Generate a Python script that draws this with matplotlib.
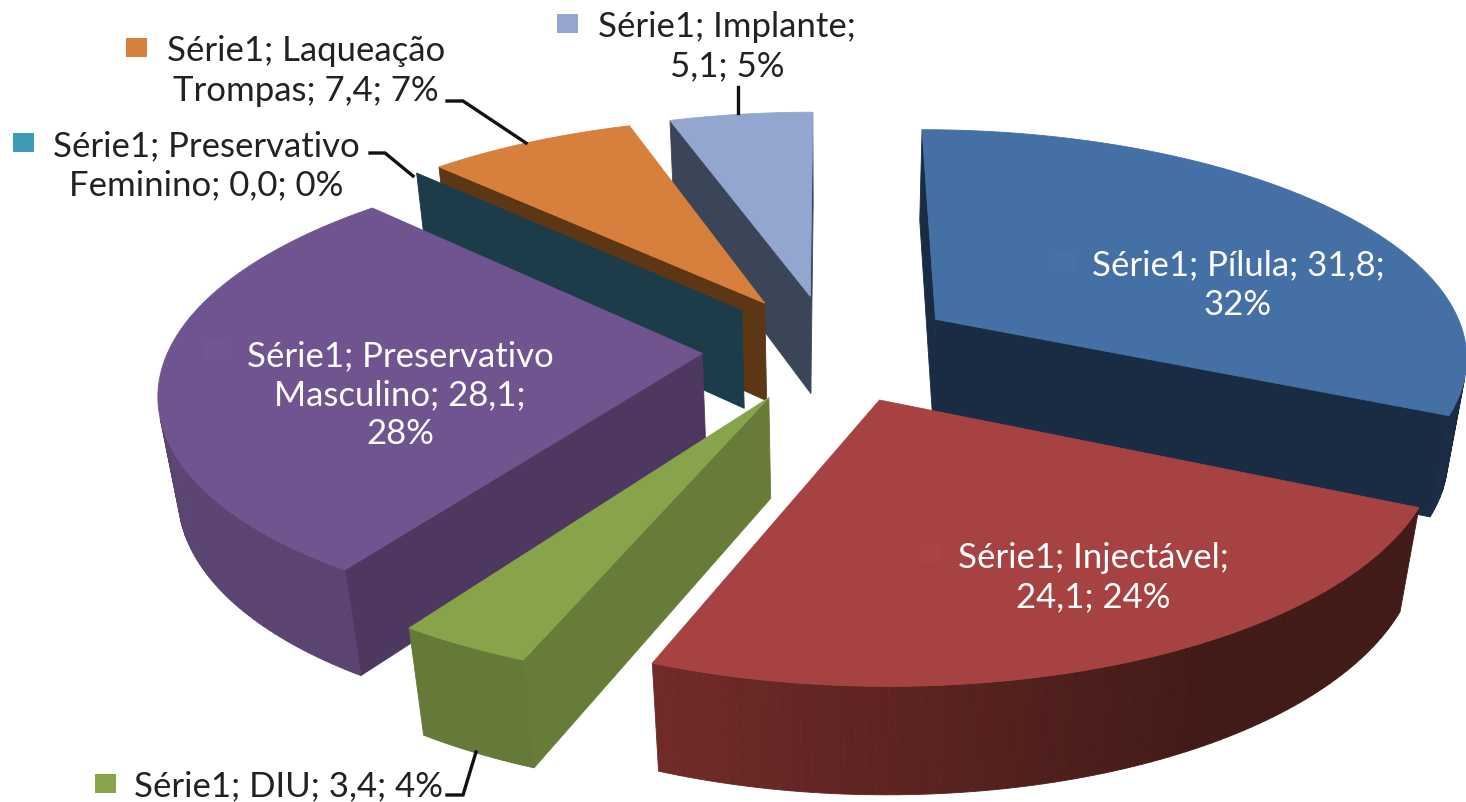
#!/usr/bin/python3

import numpy as np
import matplotlib
matplotlib.use("Agg")
import matplotlib.pyplot as plt
from matplotlib.colors import to_rgb
from matplotlib.patches import Polygon, Rectangle

categories = ["Pílula", "Injectável", "DIU", "Preservativo Masculino",
              "Preservativo Feminino", "Laqueação Trompas", "Implante"]
values = [31.8, 24.1, 3.4, 28.1, 0.0, 7.4, 5.1]
labels = [
    "Série1; Pílula; 31,8;\n32%",
    "Série1; Injectável;\n24,1; 24%",
    "Série1; DIU; 3,4; 4%",
    "Série1; Preservativo\nMasculino; 28,1;\n28%",
    "Série1; Preservativo\nFeminino; 0,0; 0%",
    "Série1; Laqueação\nTrompas; 7,4; 7%",
    "Série1; Implante;\n5,1; 5%",
]

top_colors = ["#4470A6", "#A64342", "#87A44B", "#705490", "#1B3C48", "#D77F3C", "#92A6CF"]
wall_colors = ["#1A2C44", "#421A17", "#687C3A", "#4E3860", "#1B3C48", "#5C3615", "#3B4558"]
outer_colors = ["#1A2C44", "#702B29", "#657A38", "#5B4472", "#1B3C48", "#5C3615", "#3B4558"]
key_colors = ["#4672A8", "#A94544", "#87A44B", "#725692", "#3F9BB3", "#D77F3C", "#92A6CF"]
text_colors = ["white", "white", "#222222", "white", "#222222", "#222222", "#222222"]

# pie geometry in pixels, the image is the data space
cx, cy = 830, 348
rx, ry = 533, 226
depth = 102
explode = 0.24
persp = 0.15
persp_z = 0.03

# text centre and key box (left, top) per slice
label_pos = [(1238, 285), (1093, 578), (288, 786), (400, 395), (206, 166), (306, 71), (727, 47)]
key_pos = [(1055, 253), (919, 543), (95, 774), (205, 341), (13, 133), (126, 38), (557, 14)]
leaders = {
    2: ([447, 463, 476], [795, 795, 752]),
    4: ([370, 385, 413], [153, 153, 176]),
    5: ([447, 463, 526], [101, 101, 143]),
    6: ([738, 738], [87, 113]),
}


def project(X, Y, z=0.0):
    s = 1 / (1 + persp * Y + persp_z * z)
    return cx + rx * X * s, cy + (depth * z - ry * Y) * s


def area(pts):
    x, y = np.array(pts).T
    return 0.5 * np.sum(x * np.roll(y, -1) - np.roll(x, -1) * y)


def face(ax, pts, color, sign):
    # only faces turned to the viewer
    if area(pts) * sign > 0:
        ax.add_patch(Polygon(pts, closed=True, facecolor=color, edgecolor=color, lw=0.6))


def draw_slice(ax, i, a0, a1):
    mid = (a0 + a1) / 2
    ox, oy = explode * np.sin(mid), explode * np.cos(mid)
    t = np.linspace(a0, a1, max(2, int((a1 - a0) * 60)))
    X, Y = ox + np.sin(t), oy + np.cos(t)

    apex_t, apex_b = project(ox, oy), project(ox, oy, 1)
    start = [apex_t, project(X[0], Y[0]), project(X[0], Y[0], 1), apex_b]
    end = [apex_t, project(X[-1], Y[-1]), project(X[-1], Y[-1], 1), apex_b]
    face(ax, start, wall_colors[i], -1)
    face(ax, end, wall_colors[i], 1)

    # outer wall as thin strips, darker towards the right
    dark, light = np.array(to_rgb(wall_colors[i])), np.array(to_rgb(outer_colors[i]))
    for j in range(len(t) - 1):
        quad = [project(X[j], Y[j]), project(X[j + 1], Y[j + 1]),
                project(X[j + 1], Y[j + 1], 1), project(X[j], Y[j], 1)]
        deg = np.degrees((t[j] + t[j + 1]) / 2)
        f = np.clip((deg - 150) / 51, 0, 1)
        if i != 1:
            f = 1
        face(ax, quad, tuple(dark + (light - dark) * f), -1)

    if a1 > a0:
        top = [apex_t] + [project(a, b) for a, b in zip(X, Y)]
        ax.add_patch(Polygon(top, closed=True, facecolor=top_colors[i],
                             edgecolor=top_colors[i], lw=0.6))


def pie_chart():
    fig = plt.figure(figsize=(14.66, 8.02), dpi=100)
    ax = fig.add_axes([0, 0, 1, 1])
    ax.set_xlim(0, 1466)
    ax.set_ylim(802, 0)
    ax.axis("off")

    v = np.array(values)
    edges = np.concatenate([[0], np.cumsum(v)]) / v.sum() * 2 * np.pi
    for i in [6, 5, 4, 0, 3, 2, 1]:
        draw_slice(ax, i, edges[i], edges[i + 1])

    for xs, ys in leaders.values():
        ax.plot(xs, ys, color="#111111", lw=2.4, solid_joinstyle="miter")

    for i, text in enumerate(labels):
        ax.text(label_pos[i][0], label_pos[i][1], text, ha="center", va="center",
                family="Lato", fontsize=25, color=text_colors[i], linespacing=1.27)
        ax.add_patch(Rectangle(key_pos[i], 21, 19, facecolor=key_colors[i], lw=0))

    fig.savefig("out.png", dpi=100)


if __name__ == "__main__":
    pie_chart()
